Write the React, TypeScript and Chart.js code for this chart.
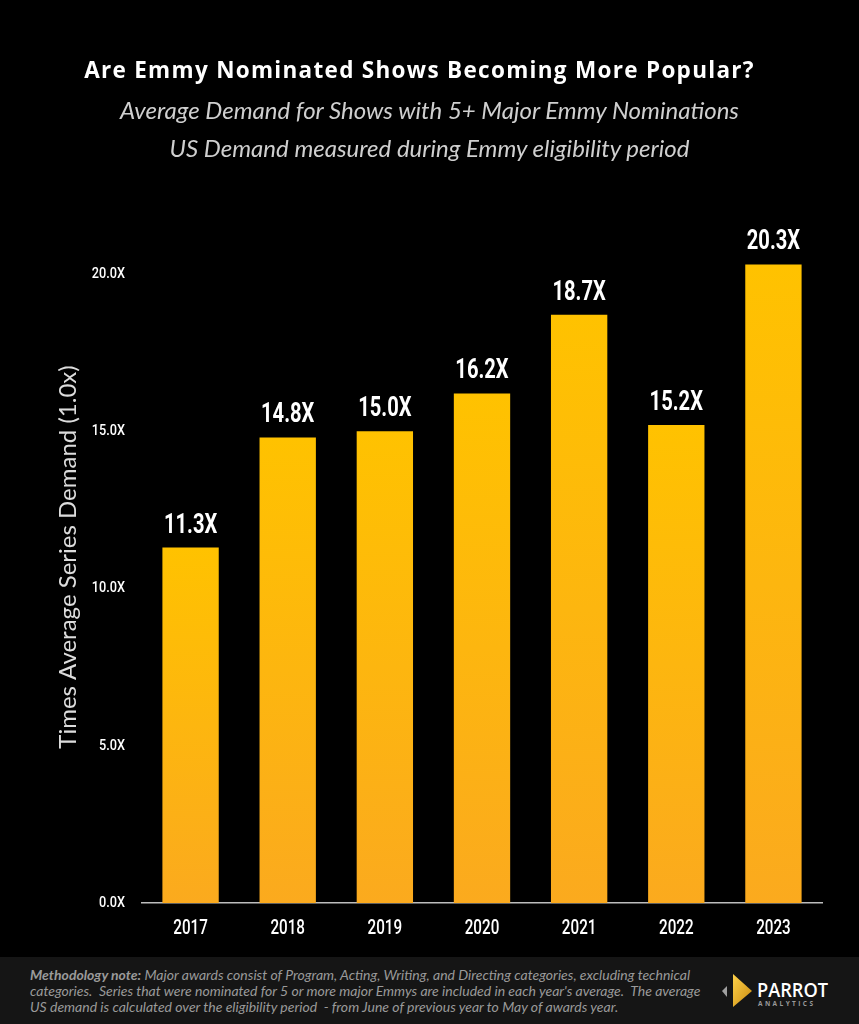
import React, { useEffect, useRef } from "react";
import { Chart, registerables } from "chart.js";

Chart.register(...registerables);

const years = ["2017", "2018", "2019", "2020", "2021", "2022", "2023"];
const demand = [11.3, 14.8, 15.0, 16.2, 18.7, 15.2, 20.3];
const valueLabels = ["11.3X", "14.8X", "15.0X", "16.2X", "18.7X", "15.2X", "20.3X"];
const yAxisMax = 22;
const yStep = 5;

const TITLE = "Are Emmy Nominated Shows Becoming More Popular?";
const SUBTITLE_1 = "Average Demand for Shows with 5+ Major Emmy Nominations";
const SUBTITLE_2 = "US Demand measured during Emmy eligibility period";
const Y_TITLE = "Times Average Series Demand (1.0x)";

const COND = 'Roboto, "Liberation Sans", sans-serif';
const GEO = 'Lato, "Open Sans", sans-serif';

function drawCondensed(ctx: any, text: string, x: number, y: number, sx: number) {
  ctx.save();
  ctx.translate(x, y);
  ctx.scale(sx, 1);
  ctx.fillText(text, 0, 0);
  ctx.restore();
}

const condensedTextPlugin = {
  id: "condensedText",
  afterDatasetsDraw(chart: any) {
    const ctx = chart.ctx;
    ctx.save();
    ctx.fillStyle = "#ffffff";

    // value labels above bars
    ctx.font = `bold 28px ${COND}`;
    ctx.textAlign = "center";
    ctx.textBaseline = "alphabetic";
    const meta = chart.getDatasetMeta(0);
    meta.data.forEach((bar: any, i: number) => {
      drawCondensed(ctx, valueLabels[i], bar.x, bar.y - 15, 0.72);
    });

    // x-axis tick labels (from the library's x scale)
    const xs = chart.scales.x;
    ctx.font = `500 20px ${COND}`;
    ctx.textAlign = "center";
    ctx.textBaseline = "middle";
    xs.ticks.forEach((t: any, i: number) => {
      const lbl = t.label;
      if (!lbl) return;
      drawCondensed(ctx, String(lbl), xs.getPixelForTick(i), xs.top + 26, 0.76);
    });

    // y-axis tick labels (from the library's y scale)
    const ys = chart.scales.y;
    ctx.font = `500 15.5px ${COND}`;
    ctx.textAlign = "right";
    ctx.textBaseline = "middle";
    ys.ticks.forEach((t: any, i: number) => {
      const lbl = t.label;
      if (!lbl) return;
      drawCondensed(ctx, String(lbl), ys.right - 17, ys.getPixelForTick(i), 0.82);
    });
    ctx.restore();
  },
};

function ChartCanvas() {
  const ref = useRef<HTMLCanvasElement | null>(null);
  useEffect(() => {
    if (!ref.current) return;
    const chart = new Chart(ref.current, {
      type: "bar",
      data: {
        labels: years,
        datasets: [
          {
            data: demand,
            categoryPercentage: 1,
            barPercentage: 0.58,
            backgroundColor: (c: any) => {
              const ch = c.chart;
              const area = ch.chartArea;
              if (!area || c.type !== "data") return "#FFC000";
              const v = c.parsed ? c.parsed.y : 0;
              const top = ch.scales.y.getPixelForValue(v);
              const bot = ch.scales.y.getPixelForValue(0);
              const g = ch.ctx.createLinearGradient(0, top, 0, bot);
              g.addColorStop(0, "#FFC200");
              g.addColorStop(1, "#FBAA1E");
              return g;
            },
            borderWidth: 0,
          },
        ],
      },
      options: {
        responsive: false,
        animation: false,
        devicePixelRatio: 1,
        layout: { padding: { top: 211, right: 37, left: 0, bottom: 0 } },
        plugins: {
          legend: { display: false },
          tooltip: { enabled: false },
          title: { display: false },
        },
        scales: {
          x: {
            grid: { display: false, drawTicks: false },
            border: { display: true, color: "#bdbdbd", width: 1.5 },
            ticks: {
              color: "rgba(0,0,0,0)",
              font: { family: COND, size: 19 },
              padding: 14,
            },
            afterFit: (scale: any) => {
              scale.height = 54;
            },
          },
          y: {
            min: 0,
            max: yAxisMax,
            grid: { display: false, drawTicks: false },
            border: { display: false },
            ticks: {
              stepSize: yStep,
              color: "rgba(0,0,0,0)",
              font: { family: COND, size: 15 },
              padding: 17,
              callback: (v: any) => (Number(v) % yStep === 0 ? `${Number(v).toFixed(1)}X` : ""),
            },
            title: {
              display: true,
              text: Y_TITLE,
              color: "#dcdcdc",
              font: { family: GEO, size: 24, weight: "normal" },
              padding: { top: 54, bottom: 0 },
            },
            afterFit: (scale: any) => {
              scale.width = 142;
            },
          },
        },
      },
      plugins: [condensedTextPlugin],
    } as any);
    return () => chart.destroy();
  }, []);
  return (
    <canvas
      ref={ref}
      width={859}
      height={957}
      style={{ position: "absolute", left: 0, top: 0, width: 859, height: 957 }}
    />
  );
}

const subStyle: React.CSSProperties = {
  position: "absolute",
  left: 0,
  width: 859,
  textAlign: "center",
  color: "#cfcfcf",
  fontFamily: GEO,
  fontStyle: "italic",
  fontSize: 24,
  lineHeight: "30px",
};

export default function App() {
  return (
    <div
      style={{
        position: "fixed",
        left: 0,
        top: 0,
        width: 859,
        height: 1024,
        background: "#000",
        overflow: "hidden",
      }}
    >
      <ChartCanvas />
      <div
        style={{
          position: "absolute",
          top: 54,
          left: 0,
          width: 839,
          textAlign: "center",
          color: "#fff",
          fontFamily: '"Open Sans", Lato, sans-serif',
          fontWeight: 700,
          fontSize: 22.5,
          letterSpacing: "1.3px",
          lineHeight: "32px",
        }}
      >
        {TITLE}
      </div>
      <div style={{ ...subStyle, top: 95 }}>{SUBTITLE_1}</div>
      <div style={{ ...subStyle, top: 133 }}>{SUBTITLE_2}</div>
      <div
        style={{
          position: "absolute",
          top: 957,
          left: 0,
          width: 859,
          height: 67,
          background: "#151515",
        }}
      >
        <div
          style={{
            position: "absolute",
            left: 30,
            top: 10,
            width: 700,
            whiteSpace: "nowrap",
            color: "#9a9a9a",
            fontFamily: GEO,
            fontStyle: "italic",
            fontSize: 14,
            lineHeight: "16px",
          }}
        >
          <b>Methodology note:</b> Major awards consist of Program, Acting, Writing, and Directing categories, excluding technical
          <br />
          categories.&nbsp; Series that were nominated for 5 or more major Emmys are included in each year's average.&nbsp; The average
          <br />
          US demand is calculated over the eligibility period&nbsp; - from June of previous year to May of awards year.
        </div>
        <svg
          width={130}
          height={50}
          style={{ position: "absolute", left: 718, top: 10 }}
          viewBox="0 0 130 50"
        >
          <defs>
            <linearGradient id="pg" x1="0" y1="0" x2="1" y2="1">
              <stop offset="0" stopColor="#FFD24A" />
              <stop offset="1" stopColor="#C98A10" />
            </linearGradient>
          </defs>
          <polygon points="4,24 9,19 9,30" fill="#a0a0a0" />
          <polygon points="15,7 34,24 15,40" fill="url(#pg)" />
          <text
            x="39"
            y="30"
            fill="#ffffff"
            fontFamily='"Open Sans", sans-serif'
            fontWeight="600"
            fontSize="19.5"
            textLength="71"
            lengthAdjust="spacingAndGlyphs"
          >
            PARROT
          </text>
          <text
            x="40"
            y="39"
            fill="#9a9a9a"
            fontFamily='"Open Sans", sans-serif'
            fontWeight="700"
            fontSize="6.5"
            textLength="55"
            lengthAdjust="spacing"
          >
            ANALYTICS
          </text>
        </svg>
      </div>
    </div>
  );
}
